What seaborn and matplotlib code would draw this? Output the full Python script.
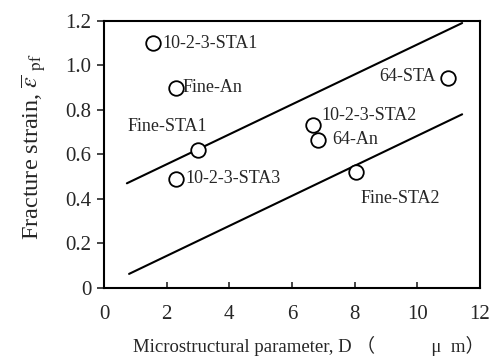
import matplotlib
matplotlib.use("Agg")
import matplotlib.pyplot as plt
import seaborn as sns
import pandas as pd

# Data
labels = ["10-2-3-STA1", "Fine-An", "Fine-STA1", "10-2-3-STA3",
          "10-2-3-STA2", "64-An", "Fine-STA2", "64-STA"]
d_vals = [1.56, 2.30, 3.00, 2.30, 6.67, 6.83, 8.04, 10.98]
strain_vals = [1.10, 0.90, 0.62, 0.49, 0.73, 0.665, 0.52, 0.944]

upper_x = [0.73, 11.43]
upper_y = [0.47, 1.19]
lower_x = [0.80, 11.43]
lower_y = [0.063, 0.78]

x_ticks = [0, 2, 4, 6, 8, 10, 12]
y_ticks = [0, 0.2, 0.4, 0.6, 0.8, 1.0, 1.2]
y_tick_labels = ["0", "0.2", "0.4", "0.6", "0.8", "1.0", "1.2"]

sns.set_theme(style="white")
plt.rcParams["font.family"] = ["Liberation Serif", "Noto Sans CJK JP"]
plt.rcParams["mathtext.fontset"] = "stix"

df = pd.DataFrame({"D": d_vals, "strain": strain_vals, "label": labels})

fig = plt.figure(figsize=(5, 3.59), dpi=100)
ax = fig.add_axes([0.208, 0.198, 0.752, 0.744])

sns.lineplot(x=upper_x, y=upper_y, ax=ax, color="black", linewidth=1.5)
sns.lineplot(x=lower_x, y=lower_y, ax=ax, color="black", linewidth=1.5)
sns.scatterplot(data=df, x="D", y="strain", ax=ax, marker="o", s=110,
                facecolor="white", edgecolor="black", linewidth=1.3, zorder=3)

# Label offsets in points (dx, dy, ha)
offsets = {
    "10-2-3-STA1": (7, 0, "left"),
    "Fine-An": (5, 0, "left"),
    "Fine-STA1": (6.5, 17, "right"),
    "10-2-3-STA3": (7, 0, "left"),
    "10-2-3-STA2": (6, 7, "left"),
    "64-An": (10, 0, "left"),
    "Fine-STA2": (3, -19, "left"),
    "64-STA": (-9, 1, "right"),
}
for lab, x, y in zip(labels, d_vals, strain_vals):
    dx, dy, ha = offsets[lab]
    ax.annotate(lab, (x, y), xytext=(dx, dy), textcoords="offset points",
                ha=ha, va="center", fontsize=13)

ax.set_xlim(0, 12)
ax.set_ylim(0, 1.2)
ax.set_xticks(x_ticks)
ax.set_xticklabels([str(t) for t in x_ticks])
ax.set_yticks(y_ticks)
ax.set_yticklabels(y_tick_labels)
ax.tick_params(axis="x", direction="in", length=4, width=1.2, labelsize=15, pad=12)
ax.tick_params(axis="y", direction="out", length=5, width=1.2, labelsize=15, pad=4)
ax.tick_params(left=True, bottom=True)

for sp in ax.spines.values():
    sp.set_visible(True)
    sp.set_color("black")
    sp.set_linewidth(1.5)

ax.set_xlabel("Microstructural parameter, D （　　　μ  m）", fontsize=13.5)
ax.xaxis.label.set_horizontalalignment("left")
ax.xaxis.set_label_coords(0.077, -0.18)
ax.set_ylabel(r"Fracture strain, $\overline{\varepsilon}\ _{\rm pf}$", fontsize=17.5)
ax.yaxis.set_label_coords(-0.149, 0.53)

fig.savefig("out.png", dpi=100)
